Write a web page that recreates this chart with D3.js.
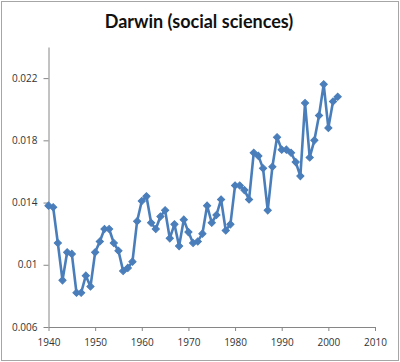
<!DOCTYPE html>
<html>
<head>
<meta charset="utf-8">
<script src="https://cdn.jsdelivr.net/npm/d3@7"></script>
<style>
  body { margin: 0; background: #fff; }
  svg { display: block; }
</style>
</head>
<body>
<div class="chart"></div>
<script>
// values
const years = [1940, 1941, 1942, 1943, 1944, 1945, 1946, 1947, 1948, 1949,
  1950, 1951, 1952, 1953, 1954, 1955, 1956, 1957, 1958, 1959,
  1960, 1961, 1962, 1963, 1964, 1965, 1966, 1967, 1968, 1969,
  1970, 1971, 1972, 1973, 1974, 1975, 1976, 1977, 1978, 1979,
  1980, 1981, 1982, 1983, 1984, 1985, 1986, 1987, 1988, 1989,
  1990, 1991, 1992, 1993, 1994, 1995, 1996, 1997, 1998, 1999,
  2000, 2001, 2002];
const share = [0.0138, 0.0137, 0.0114, 0.0090, 0.0108, 0.0107, 0.0082, 0.0082, 0.0093, 0.0086,
  0.0108, 0.0115, 0.0123, 0.0123, 0.0114, 0.0109, 0.0096, 0.0098, 0.0102, 0.0128,
  0.0141, 0.0144, 0.0127, 0.0123, 0.0131, 0.0135, 0.0117, 0.0126, 0.0112, 0.0129,
  0.0121, 0.0114, 0.0115, 0.0120, 0.0138, 0.0127, 0.0132, 0.0142, 0.0122, 0.0126,
  0.0151, 0.0151, 0.0148, 0.0142, 0.0172, 0.0170, 0.0162, 0.0135, 0.0163, 0.0182,
  0.0174, 0.0174, 0.0172, 0.0166, 0.0157, 0.0204, 0.0169, 0.0180, 0.0196, 0.0216,
  0.0188, 0.0205, 0.0208];
const yTicks = [0.006, 0.01, 0.014, 0.018, 0.022];
const xTicks = [1940, 1950, 1960, 1970, 1980, 1990, 2000, 2010];
const title = "Darwin (social sciences)";

const data = years.map((y, i) => ({year: y, value: share[i]}));

const width = 400, height = 362;
const blue = "#4a7ebb";

const svg = d3.select(".chart")
  .append("svg")
  .attr("width", width)
  .attr("height", height);

// outer frame
svg.append("rect")
  .attr("x", 1.5)
  .attr("y", 1.5)
  .attr("width", width - 3)
  .attr("height", height - 3)
  .attr("fill", "white")
  .attr("stroke", "#a6a6a6");

svg.append("text")
  .attr("x", 199)
  .attr("y", 28)
  .attr("text-anchor", "middle")
  .attr("font-family", "Lato, 'Open Sans', sans-serif")
  .attr("font-weight", "bold")
  .attr("font-size", 18)
  .attr("fill", "#111")
  .text(title);

const xScale = d3.scaleLinear()
  .domain([1940, 2010])
  .range([48.5, 375]);

const yScale = d3.scaleLinear()
  .domain([0.006, 0.024])
  .range([327, 47]);

const xAxis = d3.axisBottom(xScale)
  .tickValues(xTicks)
  .tickFormat(d3.format("d"))
  .tickSizeInner(4)
  .tickSizeOuter(0)
  .tickPadding(8);

const yAxis = d3.axisLeft(yScale)
  .tickValues(yTicks)
  .tickFormat(d => String(d))
  .tickSizeInner(5)
  .tickSizeOuter(0)
  .tickPadding(6);

const gx = svg.append("g")
  .attr("class", "axis x-axis")
  .attr("transform", `translate(0, ${yScale(0.006)})`)
  .call(xAxis);

const gy = svg.append("g")
  .attr("class", "axis y-axis")
  .attr("transform", `translate(${xScale(1940)}, 0)`)
  .call(yAxis);

[gx, gy].forEach(g => {
  g.selectAll(".domain, .tick line").attr("stroke", "#868686");
  g.selectAll("text")
    .attr("font-family", "'Open Sans', sans-serif")
    .attr("font-size", 10)
    .attr("fill", "#333");
});

const line = d3.line()
  .x(d => xScale(d.year))
  .y(d => yScale(d.value));

svg.append("path")
  .datum(data)
  .attr("fill", "none")
  .attr("stroke", blue)
  .attr("stroke-width", 2.6)
  .attr("stroke-linejoin", "round")
  .attr("d", line);

const diamond = d3.symbol().type(d3.symbolSquare).size(26);

svg.selectAll(".pt")
  .data(data)
  .enter()
  .append("path")
  .attr("class", "pt")
  .attr("d", diamond)
  .attr("transform", d => `translate(${xScale(d.year)}, ${yScale(d.value)}) rotate(45)`)
  .attr("fill", blue)
  .attr("stroke", blue)
  .attr("stroke-width", 1);
</script>
</body>
</html>
